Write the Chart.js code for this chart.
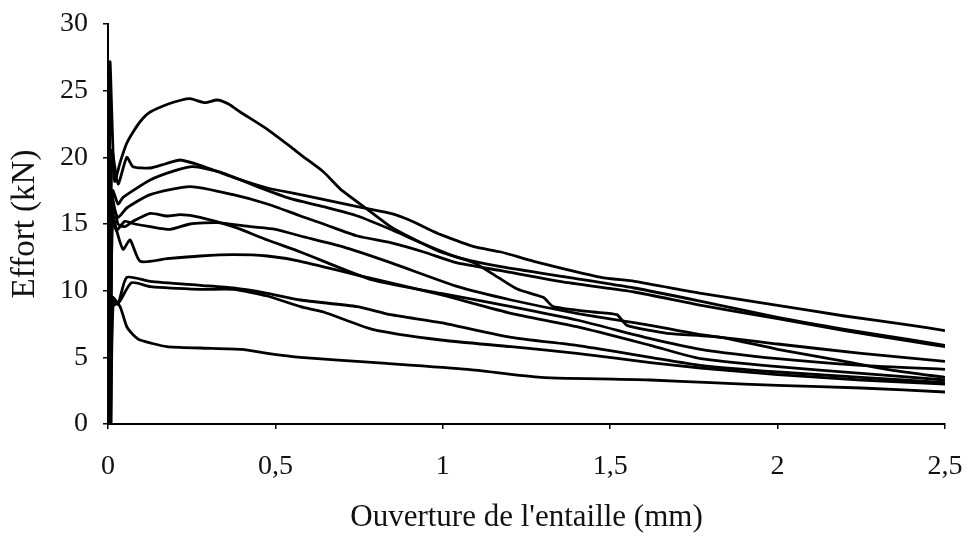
<!DOCTYPE html>
<html>
<head>
<meta charset="utf-8">
<script src="https://cdn.jsdelivr.net/npm/chart.js@4.4.0/dist/chart.umd.min.js"></script>
<style>
  html, body { margin: 0; padding: 0; background: #fff; }
  #wrap { width: 970px; height: 539px; }
</style>
</head>
<body>
<div id="wrap"><canvas id="line-chart" width="970" height="539"></canvas></div>
<script>
// courbes effort / ouverture (x en mm, y en kN)
var essaiA = [[0.002,0],[0.006,27.1],[0.013,22],[0.02,18.2],[0.036,19.6],[0.055,21],[0.075,21.9],[0.1,22.8],[0.126,23.4],[0.18,24],[0.22,24.3],[0.245,24.4],[0.29,24.1],[0.326,24.3],[0.36,24.0],[0.395,23.4],[0.476,22.1],[0.545,20.8],[0.575,20.2],[0.644,18.9],[0.695,17.6],[0.775,16.1],[0.844,14.8],[0.895,14.1],[0.994,12.9],[1.093,12.1],[1.165,11.0],[1.224,10.1],[1.30,9.5],[1.33,8.8],[1.45,8.4],[1.52,8.2],[1.55,7.4],[1.67,6.8],[1.83,6.5],[2.0,5.6],[2.2,4.7],[2.35,4.0],[2.5,3.5]];
var essaiB = [[0.004,0],[0.012,20.5],[0.03,18],[0.056,20],[0.075,19.3],[0.126,19.2],[0.17,19.5],[0.216,19.8],[0.275,19.4],[0.374,18.5],[0.476,17.7],[0.575,17.2],[0.745,16.3],[0.844,15.8],[0.9,15.3],[0.95,14.7],[0.994,14.2],[1.093,13.3],[1.174,12.9],[1.272,12.2],[1.473,11.0],[1.572,10.7],[1.772,9.8],[2.0,8.9],[2.2,8.1],[2.4,7.4],[2.5,7.0]];
var essaiC = [[0.003,0],[0.014,17.5],[0.03,16.5],[0.045,17.0],[0.126,18.3],[0.2,19.0],[0.254,19.3],[0.335,18.9],[0.446,17.8],[0.545,16.9],[0.644,16.3],[0.745,15.6],[0.844,14.6],[0.943,13.5],[1.045,12.5],[1.174,11.8],[1.374,11.0],[1.572,10.2],[1.772,9.2],[2.0,8.0],[2.2,7.1],[2.4,6.3],[2.5,5.9]];
var essaiD = [[0.005,0],[0.012,16.5],[0.03,15.5],[0.056,16.2],[0.126,17.2],[0.245,17.8],[0.374,17.2],[0.476,16.5],[0.575,15.6],[0.644,15.0],[0.745,14.1],[0.844,13.6],[0.943,12.9],[1.04,12.1],[1.174,11.5],[1.374,10.6],[1.572,9.9],[1.772,8.9],[2.0,7.9],[2.2,7.0],[2.4,6.2],[2.5,5.8]];
var essaiE = [[0.006,0],[0.014,16.8],[0.03,15],[0.05,14.8],[0.075,15.2],[0.126,15.8],[0.176,15.6],[0.216,15.7],[0.275,15.5],[0.374,14.8],[0.476,13.8],[0.575,12.9],[0.79,10.8],[0.994,9.8],[1.204,8.8],[1.4,7.8],[1.62,6.4],[1.77,5.6],[2.0,4.9],[2.25,4.4],[2.5,4.1]];
var essaiF = [[0.004,0],[0.012,15.5],[0.025,14.5],[0.05,15.2],[0.08,15.0],[0.126,14.8],[0.186,14.6],[0.245,15.0],[0.326,15.1],[0.425,14.8],[0.5,14.6],[0.575,14.1],[0.7,13.3],[0.844,12.1],[1.045,10.3],[1.204,9.3],[1.4,8.3],[1.62,7.4],[1.77,6.7],[2.0,6.0],[2.25,5.3],[2.5,4.7]];
var essaiG = [[0.007,0],[0.013,15.8],[0.027,14.4],[0.045,13.1],[0.066,13.8],[0.096,12.2],[0.176,12.4],[0.275,12.6],[0.374,12.7],[0.476,12.6],[0.575,12.2],[0.79,10.9],[0.994,9.7],[1.204,8.3],[1.4,7.3],[1.62,5.9],[1.77,4.9],[2.0,4.3],[2.25,3.8],[2.5,3.3]];
var essaiH = [[0.008,0],[0.014,9.2],[0.03,9.0],[0.056,11.0],[0.126,10.7],[0.275,10.4],[0.374,10.2],[0.476,9.8],[0.575,9.3],[0.745,8.8],[0.844,8.2],[0.994,7.6],[1.204,6.5],[1.4,5.9],[1.62,5.0],[1.77,4.4],[2.0,3.9],[2.25,3.5],[2.5,3.1]];
var essaiI = [[0.009,0],[0.015,8.8],[0.035,9.2],[0.07,10.6],[0.126,10.3],[0.275,10.1],[0.374,10.1],[0.476,9.6],[0.575,8.8],[0.644,8.4],[0.79,7.1],[0.994,6.3],[1.204,5.8],[1.4,5.3],[1.62,4.6],[1.77,4.2],[2.0,3.7],[2.25,3.3],[2.5,3.0]];
var essaiJ = [[0.006,0],[0.012,9.5],[0.036,8.8],[0.056,7.3],[0.075,6.7],[0.096,6.3],[0.176,5.8],[0.275,5.7],[0.4,5.6],[0.476,5.3],[0.575,5.0],[0.8,4.6],[1.075,4.1],[1.293,3.5],[1.62,3.3],[1.8,3.1],[2.0,2.9],[2.25,2.7],[2.5,2.4]];

var essais = [essaiA, essaiB, essaiC, essaiD, essaiE, essaiF, essaiG, essaiH, essaiI, essaiJ];
var xTicks = [0, 0.5, 1, 1.5, 2, 2.5];
var yTicks = [0, 5, 10, 15, 20, 25, 30];
var xTitle = "Ouverture de l'entaille (mm)";
var yTitle = 'Effort (kN)';

var font = 'Liberation Serif, Times New Roman, serif';

function buildLineChart(series) {
    var ctx = document.getElementById('line-chart');
    var datasets = series.map(function(pts) {
        return {
            data: pts.map(function(p) { return {x: p[0], y: p[1]}; }),
            borderColor: '#000',
            borderWidth: 2.8,
            showLine: true,
            pointRadius: 0,
            tension: 0.2,
            fill: false
        };
    });
    return new Chart(ctx, {
        type: 'scatter',
        data: { datasets: datasets },
        options: {
            responsive: false,
            animation: false,
            layout: { padding: { top: 24, right: 25, left: 0, bottom: 0 } },
            plugins: { legend: { display: false }, tooltip: { enabled: false } },
            scales: {
                x: {
                    type: 'linear', min: 0, max: 2.5,
                    afterBuildTicks: function(s) { s.ticks = xTicks.map(function(v) { return {value: v}; }); },
                    afterFit: function(s) { s.height = 115; s.paddingLeft = 0; s.paddingRight = 0; },
                    border: { color: '#000', width: 2 },
                    grid: { drawOnChartArea: false, tickLength: 5, color: '#000', lineWidth: 1.5 },
                    ticks: {
                        color: '#111', padding: 21,
                        font: { family: font, size: 28 },
                        callback: function(v) { return String(v).replace('.', ','); }
                    },
                    title: { display: true, text: xTitle, color: '#111', font: { family: font, size: 31 }, padding: { top: 0, bottom: 3 } }
                },
                y: {
                    min: 0, max: 30,
                    afterBuildTicks: function(s) { s.ticks = yTicks.map(function(v) { return {value: v}; }); },
                    afterFit: function(s) { s.width = 108; s.paddingTop = 0; s.paddingBottom = 0; },
                    border: { color: '#000', width: 2 },
                    grid: { drawOnChartArea: false, tickLength: 5, color: '#000', lineWidth: 1.5 },
                    ticks: { color: '#111', padding: 15, font: { family: font, size: 28 } },
                    title: { display: true, text: yTitle, color: '#111', font: { family: font, size: 33 }, padding: { top: 6, bottom: 0 } }
                }
            }
        }
    });
}

buildLineChart(essais);
</script>
</body>
</html>
